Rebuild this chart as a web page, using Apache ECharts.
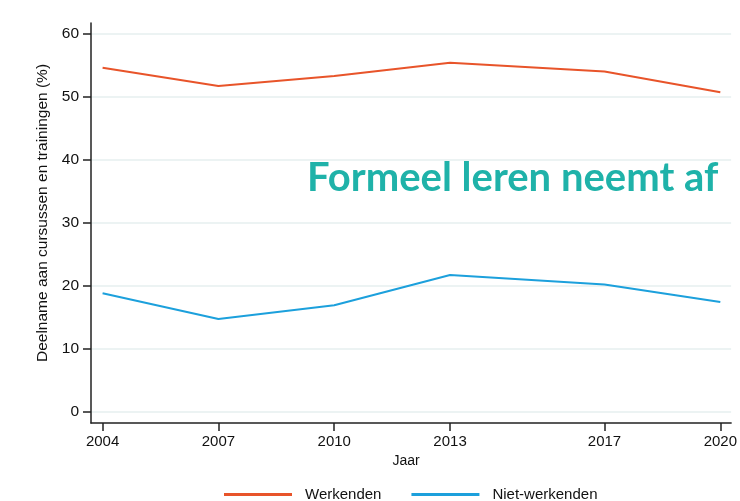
<!DOCTYPE html>
<html>
<head>
<meta charset="utf-8">
<script src="https://cdn.jsdelivr.net/npm/echarts@6/dist/echarts.min.js"></script>
<style>
  html, body { margin: 0; padding: 0; background: #fff; }
  #main { width: 740px; height: 501px; }
</style>
</head>
<body>
<div id="main"></div>
<script>
// jaren (x-as) en deelname in %
var years = [2004, 2007, 2010, 2013, 2017, 2020];
var werkenden = [54.6, 51.7, 53.3, 55.4, 54.0, 50.7];
var nietWerkenden = [18.8, 14.7, 16.9, 21.7, 20.2, 17.4];
var yTicks = [0, 10, 20, 30, 40, 50, 60];

function pairs(xs, ys) {
  return xs.map(function (x, i) { return [x, ys[i]]; });
}

var chart = echarts.init(document.getElementById('main'));
var axisColor = '#222';
var font = 'Liberation Sans, Arial, sans-serif';

var option = {
  animation: false,
  title: {
    text: 'Formeel leren neemt af',
    left: 302,
    top: 153,
    textStyle: {
      color: '#1fb2a9',
      fontFamily: 'Lato',
      fontWeight: 'bold',
      fontSize: 40
    }
  },
  grid: { left: 91, right: 8, top: 23, bottom: 78 },
  legend: {
    top: 482,
    left: 219,
    itemWidth: 68,
    itemHeight: 3,
    itemGap: 30,
    icon: 'rect',
    textStyle: { fontFamily: font, fontSize: 15, color: '#111', padding: [0, 0, 0, 8] },
    data: ['Werkenden', 'Niet-werkenden']
  },
  xAxis: {
    type: 'value',
    min: 2003.7,
    max: 2020.28,
    name: 'Jaar',
    nameLocation: 'middle',
    nameGap: 28,
    nameTextStyle: { fontFamily: font, fontSize: 14, color: '#111', padding: [0, 10, 0, 0] },
    axisLine: { show: true, onZero: false, lineStyle: { color: axisColor, width: 1.5 } },
    axisTick: { show: true, length: 8, customValues: years, lineStyle: { color: axisColor, width: 1.5 } },
    axisLabel: { customValues: years, margin: 11, fontFamily: font, fontSize: 15, color: '#111',
      formatter: function (v) { return String(v); } },
    splitLine: { show: false }
  },
  yAxis: {
    type: 'value',
    min: -1.8,
    max: 61.7,
    name: 'Deelname aan cursussen en trainingen (%)',
    nameLocation: 'middle',
    nameGap: 37,
    nameTextStyle: { fontFamily: font, fontSize: 15.5, color: '#111', padding: [0, 0, 0, 20] },
    axisLine: { show: true, lineStyle: { color: axisColor, width: 1.5 } },
    axisTick: { show: true, length: 8, customValues: yTicks, lineStyle: { color: axisColor, width: 1.5 } },
    axisLabel: { customValues: yTicks, margin: 12, fontFamily: font, fontSize: 15.5, color: '#111' },
    splitLine: { show: true, lineStyle: { color: '#e6efef', width: 1.5 } }
  },
  series: [
    {
      name: 'Werkenden',
      type: 'line',
      symbol: 'none',
      data: pairs(years, werkenden),
      lineStyle: { color: '#e8542a', width: 2 },
      itemStyle: { color: '#e8542a' }
    },
    {
      name: 'Niet-werkenden',
      type: 'line',
      symbol: 'none',
      data: pairs(years, nietWerkenden),
      lineStyle: { color: '#1ca0dc', width: 2 },
      itemStyle: { color: '#1ca0dc' }
    }
  ]
};

chart.setOption(option);
</script>
</body>
</html>
